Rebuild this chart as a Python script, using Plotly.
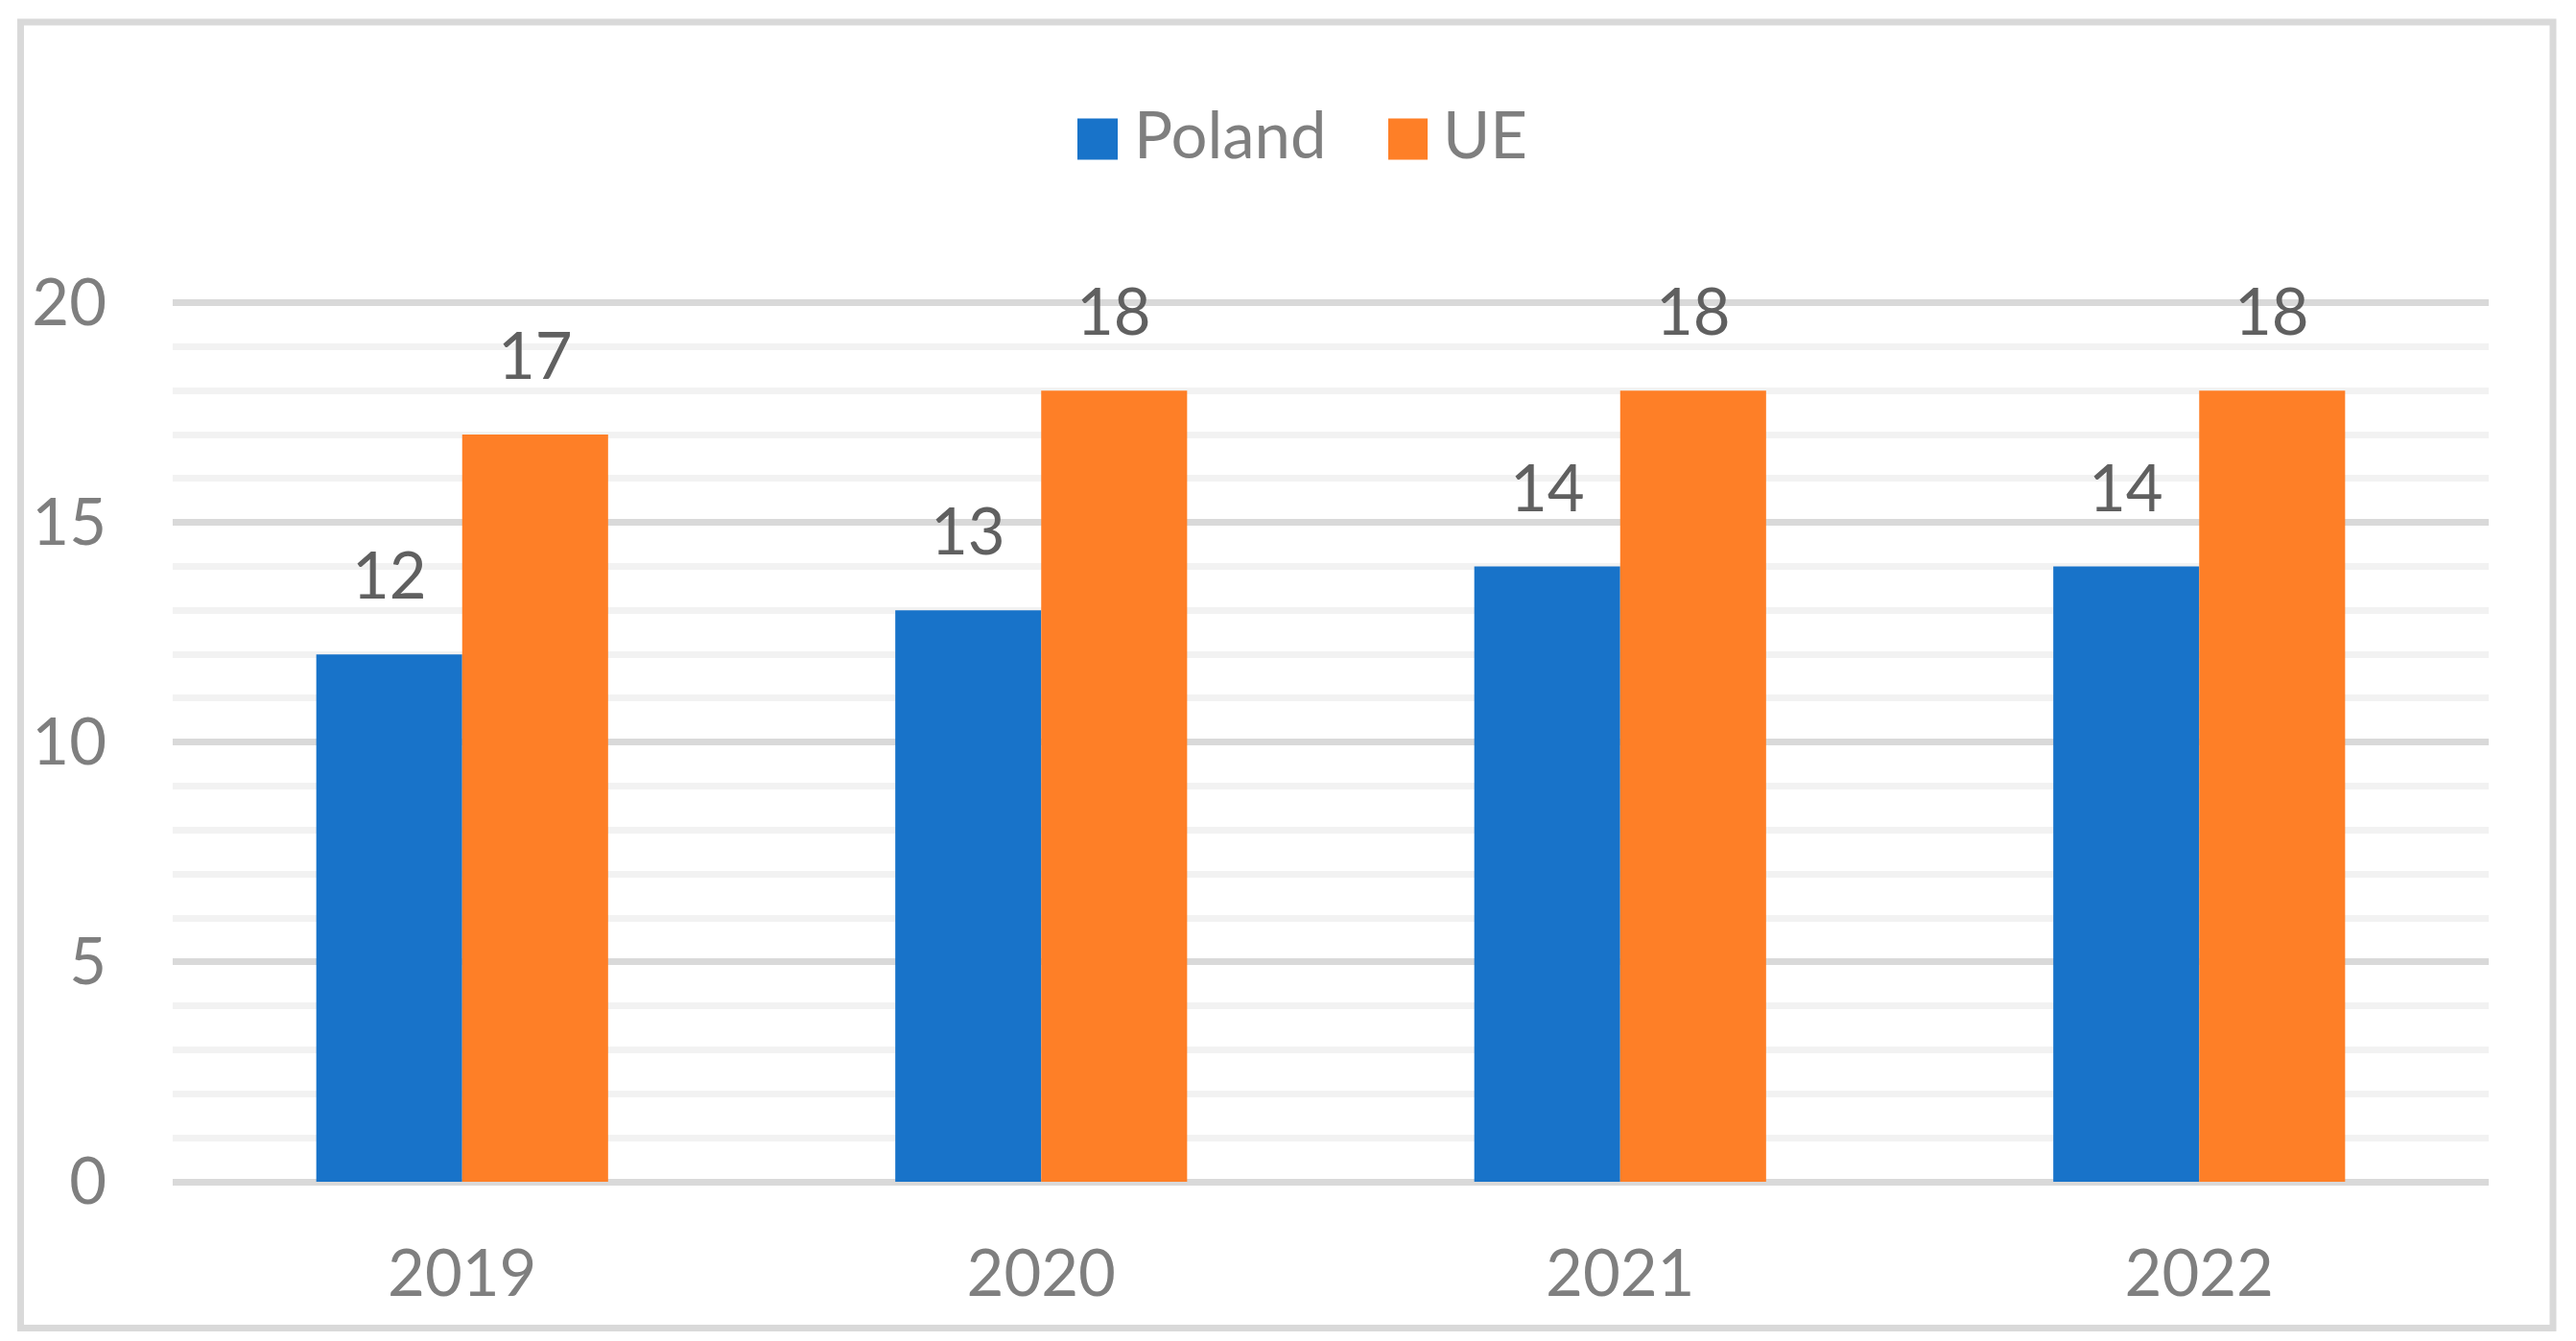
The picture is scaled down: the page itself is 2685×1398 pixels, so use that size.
import plotly.graph_objects as go

years = ["2019", "2020", "2021", "2022"]
series_names = ["Poland", "UE"]
poland = [12, 13, 14, 14]
ue = [17, 18, 18, 18]
y_ticks = [0, 5, 10, 15, 20]

colors = ["#1873C9", "#FE7F27"]
FONT = "Lato"
OFF = 8                      # page body margin
W, H = 2685 - OFF, 1398 - OFF
Y_MAX = 20.1
PX_PER_UNIT = 45.8
PLOT_L, PLOT_R, PLOT_B = 180, 2594, 1232          # screen pixels
PLOT_T = PLOT_B - PX_PER_UNIT * Y_MAX
ML = PLOT_L - OFF
MR = W + OFF - PLOT_R
MT = PLOT_T - OFF
MB = H + OFF - PLOT_B
PW, PH = PLOT_R - PLOT_L, PLOT_B - PLOT_T

def px_x(px):
    return (px - PLOT_L) / PW

def px_y(py):
    return (PLOT_B - py) / PH

fig = go.Figure()
for name, vals, col in zip(series_names, [poland, ue], colors):
    fig.add_trace(go.Bar(x=years, y=vals, name=name, marker=dict(color=col, line=dict(width=0)),
                         showlegend=False))

annotations = []
# data labels (x given as category index)
for vals, shift in zip([poland, ue], [-76, 76]):
    for i, v in enumerate(vals):
        annotations.append(dict(x=i, y=v, xref="x", yref="y", text=str(v), showarrow=False,
                                xshift=shift, yshift=42, yanchor="bottom", xanchor="center",
                                font=dict(family=FONT, size=67, color="#606060")))

# legend (manual)
shapes = []
leg_boxes = [(1123, 1165), (1447, 1488)]
leg_text_x = [1180, 1502]
for name, col, (x0, x1), tx in zip(series_names, colors, leg_boxes, leg_text_x):
    shapes.append(dict(type="rect", xref="paper", yref="paper", x0=px_x(x0), x1=px_x(x1),
                       y0=px_y(167), y1=px_y(124), fillcolor=col, line=dict(width=0)))
    annotations.append(dict(x=px_x(tx), y=px_y(139), xref="paper", yref="paper", text=name,
                            showarrow=False, xanchor="left", yanchor="middle",
                            font=dict(family=FONT, size=67, color="#7F7F7F")))

# outer border
shapes.append(dict(type="rect", xref="paper", yref="paper", x0=px_x(21.5), x1=px_x(2661),
                   y0=px_y(1384.5), y1=px_y(23.5), line=dict(color="#D9D9D9", width=7),
                   fillcolor="rgba(0,0,0,0)", layer="above"))

fig.update_layout(
    width=W, height=H,
    margin=dict(l=ML, r=MR, t=MT, b=MB, pad=0),
    paper_bgcolor="white", plot_bgcolor="white",
    barmode="group", bargap=0.496, bargroupgap=0,
    annotations=annotations, shapes=shapes,
    font=dict(family=FONT, size=67, color="#7F7F7F"),
)
fig.update_xaxes(type="category", range=[-0.5, 3.5], showgrid=False, showline=False, zeroline=False,
                 tickfont=dict(family=FONT, size=67, color="#7F7F7F"), ticks="",
                 ticklabelstandoff=51)
fig.update_yaxes(range=[0, Y_MAX], tickvals=y_ticks, showline=False,
                 showgrid=True, gridcolor="#D9D9D9", gridwidth=7,
                 zeroline=True, zerolinecolor="#D9D9D9", zerolinewidth=7,
                 minor=dict(dtick=1, showgrid=True, gridcolor="#F2F2F2", gridwidth=7),
                 tickfont=dict(family=FONT, size=67, color="#7F7F7F"), ticks="",
                 ticklabelstandoff=68)

fig.write_html("out.html")
